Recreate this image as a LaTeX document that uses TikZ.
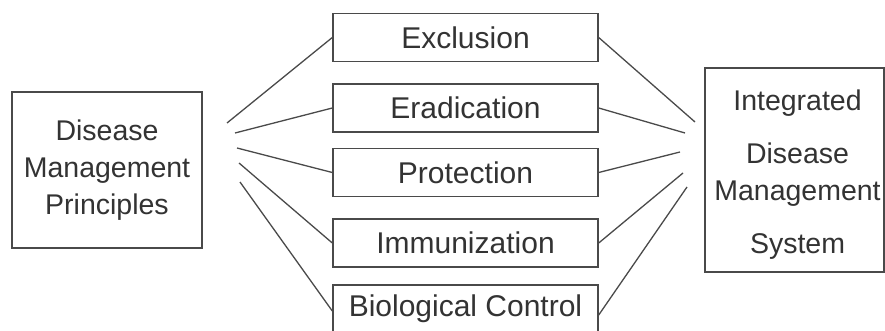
\documentclass[tikz,border=0pt]{standalone}
\usepackage{fontspec}
\setmainfont{Liberation Sans}
\definecolor{ink}{HTML}{4A4A4A}
\definecolor{txt}{HTML}{333333}
\begin{document}
\begin{tikzpicture}[x=1pt,y=-1pt]
\tikzset{
  box/.style={draw=ink, line width=1.4pt, rectangle, inner sep=0pt, text=txt, align=center},
  midbox/.style={box, minimum width=265pt, minimum height=48pt, font=\fontsize{30}{36}\selectfont},
  conn/.style={draw=ink, line width=1.3pt},
}
\useasboundingbox (0,0) rectangle (885,331);
\clip (0,0) rectangle (885,331);
\fill[white] (0,0) rectangle (885,331);

\node[box, minimum width=190pt, minimum height=156pt, font=\fontsize{28.5}{37}\selectfont] (dmp) at (107,170) {Disease\\Management\\Principles};

\node[midbox] (exc) at (465.5,37.5) {Exclusion};
\node[midbox] (era) at (465.5,108) {Eradication};
\node[midbox] (pro) at (465.5,172.5) {Protection};
\node[midbox] (imm) at (465.5,243) {Immunization};
\node[midbox] (bio) at (465.5,309) {Biological Control};

\node[box, minimum width=179pt, minimum height=204pt, font=\fontsize{28.5}{37}\selectfont] (idm) at (794.5,170)
  {\hspace*{6pt}\rule{0pt}{30pt}Integrated\\[16pt]\hspace*{6pt}Disease\\\hspace*{6pt}Management\\[16pt]\hspace*{6pt}System};

\coordinate (L1) at (227,123);
\coordinate (L2) at (235,133);
\coordinate (L3) at (237,148);
\coordinate (L4) at (239,163);
\coordinate (L5) at (240,182);
\coordinate (R1) at (695,122);
\coordinate (R2) at (685,133);
\coordinate (R3) at (680,152);
\coordinate (R4) at (683,173);
\coordinate (R5) at (687,187);

\draw[conn] (L1) -- (exc.west);
\draw[conn] (L2) -- (era.west);
\draw[conn] (L3) -- (pro.west);
\draw[conn] (L4) -- (imm.west);
\draw[conn] (L5) -- ([yshift=-2pt]bio.west);
\draw[conn] (exc.east) -- (R1);
\draw[conn] (era.east) -- (R2);
\draw[conn] (pro.east) -- (R3);
\draw[conn] (imm.east) -- (R4);
\draw[conn] ([yshift=-6pt]bio.east) -- (R5);
\end{tikzpicture}
\end{document}
